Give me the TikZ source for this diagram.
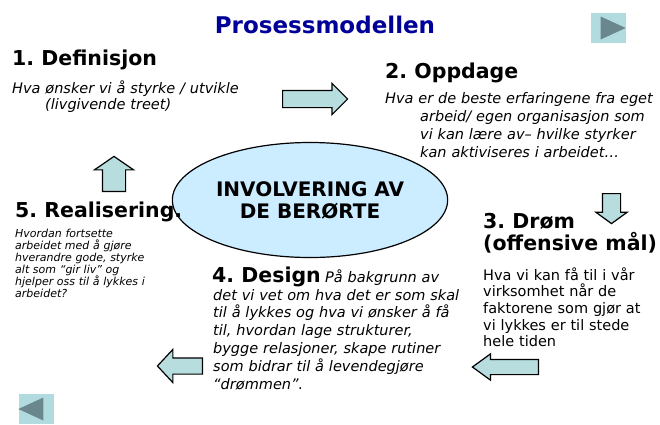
\documentclass[tikz,border=0pt]{standalone}
\usepackage{fontspec}
\setmainfont{DejaVu Sans}
\usepackage{xcolor}
\usepackage{tikz}
\usetikzlibrary{shapes.geometric,shapes.arrows}
\definecolor{titleblue}{RGB}{0,0,153}
\definecolor{arrowfill}{RGB}{183,221,222}
\definecolor{ellipsefill}{RGB}{204,236,255}
\definecolor{navfill}{RGB}{178,219,224}
\definecolor{navgray}{RGB}{105,135,140}
\frenchspacing

\begin{document}
\begin{tikzpicture}[x=1pt,y=-1pt,
    title/.style={font=\fontsize{23}{27}\selectfont\bfseries, text=titleblue, inner sep=0, anchor=base},
    heading/.style={font=\fontsize{20.5}{22}\selectfont\bfseries, inner sep=0, anchor=base west},
    bodytext/.style={font=\fontsize{14.5}{18}\selectfont\itshape, inner sep=0, anchor=base west, align=left, text width=300pt},
    blockarrow/.style={single arrow, draw=black, line width=1.2pt, fill=arrowfill, inner xsep=0, minimum width=0pt, anchor=tail},
    navbutton/.style={fill=navfill, minimum width=35pt, minimum height=30pt, inner sep=0},
    navtriangle/.style={isosceles triangle, isosceles triangle stretches, fill=navgray, minimum width=23pt, minimum height=25pt, inner sep=0}]

\useasboundingbox[fill=white] (0,0) rectangle (660,424);

\node[title] (title) at (325,33) {Prosessmodellen};
\node[navbutton] (next) at (608,28) {};
\node[navtriangle] (nexttri) at (next) {};
\node[navbutton] (prev) at (36,409) {};
\node[navtriangle, shape border rotate=180] (prevtri) at (prev) {};

\node[ellipse, draw=black, line width=1.2pt, fill=ellipsefill, minimum width=246pt, minimum height=115pt, align=center,
      font=\fontsize{20}{22}\selectfont\bfseries] (center) at (310,200) {INVOLVERING AV\\DE BERØRTE};

\node[heading] (definisjon) at (12,65) {1. Definisjon};
\node[bodytext, font=\fontsize{14.5}{16}\selectfont\itshape] (definisjontxt) at (12,93)
    {Hva ønsker vi å styrke / utvikle\\\hspace*{33pt}(livgivende treet)};

\node[heading] (oppdage) at (385,78) {2. Oppdage};
\node[bodytext] (oppdagetxt) at (385,103)
    {Hva er de beste erfaringene fra eget\\\hspace*{35pt}arbeid/ egen organisasjon som\\\hspace*{35pt}vi kan lære av– hvilke styrker\\\hspace*{35pt}kan aktiviseres i arbeidet…};

\node[heading] (drom) at (483,228) {3. Drøm};
\node[heading] (dromsub) at (483,250) {(offensive mål)};
\node[bodytext, font=\fontsize{14.5}{16.7}\selectfont] (dromtxt) at (483,280)
    {Hva vi kan få til i vår\\virksomhet når de\\faktorene som gjør at\\vi lykkes er til stede\\hele tiden};

\node[heading] (design) at (212,282) {4. Design};
\node[bodytext, text width=150pt] (designtxt) at (325,282) {På bakgrunn av};
\node[bodytext, font=\fontsize{14.5}{17.8}\selectfont\itshape] (designtxt2) at (213,300)
    {det vi vet om hva det er som skal\\til å lykkes og hva vi ønsker å få\\til, hvordan lage strukturer,\\bygge relasjoner, skape rutiner\\som bidrar til å levendegjøre\\“drømmen”.};

\node[heading] (realisering) at (15,217) {5. Realisering.};
\node[bodytext, font=\fontsize{11}{12}\selectfont\itshape] (realiseringtxt) at (15,237)
    {Hvordan fortsette\\arbeidet med å gjøre\\hverandre gode, styrke\\alt som “gir liv” og\\hjelper oss til å lykkes i\\arbeidet?};

\node[blockarrow, minimum height=65pt, inner ysep=8pt, single arrow head extend=7pt, single arrow tip angle=90] (arrowone) at (282,99) {};
\node[blockarrow, rotate=-90, minimum height=30pt, inner ysep=8.5pt, single arrow head extend=6.5pt, single arrow tip angle=108] (arrowtwo) at (611.5,193) {};
\node[blockarrow, rotate=180, minimum height=66pt, inner ysep=7pt, single arrow head extend=5.5pt, single arrow tip angle=72] (arrowthree) at (539,367) {};
\node[blockarrow, rotate=180, minimum height=45pt, inner ysep=7.5pt, single arrow head extend=8.5pt, single arrow tip angle=94] (arrowfour) at (203,366) {};
\node[blockarrow, rotate=90, minimum height=35pt, inner ysep=11pt, single arrow head extend=8pt, single arrow tip angle=111] (arrowfive) at (114,192) {};

\end{tikzpicture}
\end{document}
